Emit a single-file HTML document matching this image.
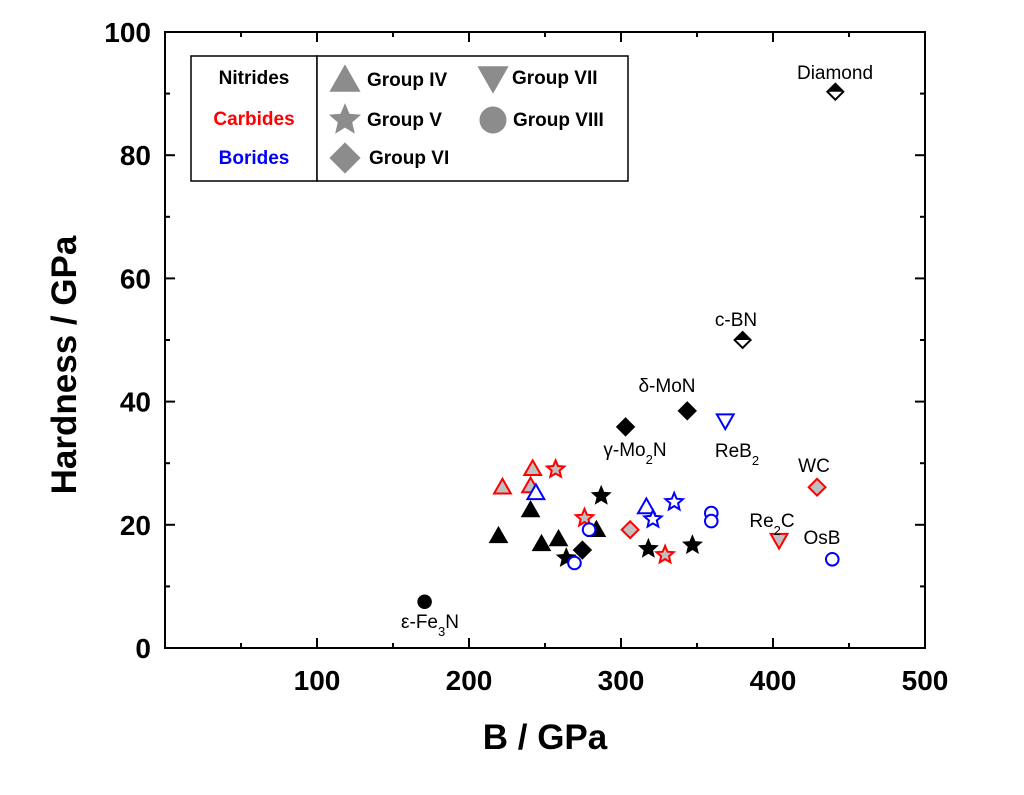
<!DOCTYPE html>
<html><head><meta charset="utf-8"><style>
body{margin:0;background:#fff;width:1024px;height:790px;overflow:hidden}
svg{font-family:"Liberation Sans",sans-serif}
</style></head><body>
<svg id="chart" width="1024" height="790" xmlns="http://www.w3.org/2000/svg"></svg>
<script>
const xTicks=[100,200,300,400,500];
const yTicks=[0,20,40,60,80,100];
const nitB=[170.8,303,343.6,219.4,240.5,247.7,258.9,283.8,274.6,264,287,318,347];
const nitH=[7.5,35.9,38.5,18.2,22.4,16.9,17.7,19.2,15.9,14.6,24.7,16.1,16.7];
const nitS=['circle','diamond','diamond','tri','tri','tri','tri','tri','diamond','star','star','star','star'];
const carB=[222,240.5,241.9,257,276,306,329,429,404];
const carH=[26.1,26.3,29.1,29,21.1,19.2,15.1,26.1,17.5];
const carS=['tri','tri','tri','star','star','diamond','star','diamond','dtri'];
const borB=[244,316.7,321,335,269.4,279,359.4,359.4,368.6,439];
const borH=[25.2,22.9,20.9,23.7,13.8,19.2,21.9,20.6,36.9,14.4];
const borS=['tri','tri','star','star','circle','circle','circle','circle','dtri','circle'];
const halfB=[380,441];
const halfH=[50,90.3];
const labels=[
 ['Diamond',835,79],['c-BN',736,326],['δ-MoN',667,392],['ε-Fe<tspan baseline-shift="sub" font-size="13">3</tspan>N',430,628],
 ['γ-Mo<tspan baseline-shift="sub" font-size="13">2</tspan>N',635,456],['ReB<tspan baseline-shift="sub" font-size="13">2</tspan>',737,457],
 ['WC',814,472],['Re<tspan baseline-shift="sub" font-size="13">2</tspan>C',772,527],['OsB',822,544]];
const L=165,R=925,T=32,Bt=648;
const sx=v=>L+v*(R-L)/500, sy=v=>Bt-v*(Bt-T)/100;
const svg=document.getElementById('chart');
const NS='http://www.w3.org/2000/svg';
function el(tag,attrs,parent){const e=document.createElementNS(NS,tag);for(const k in attrs)e.setAttribute(k,attrs[k]);(parent||svg).appendChild(e);return e;}
let fr=el('rect',{x:L,y:T,width:R-L,height:Bt-T,fill:'none',stroke:'#000','stroke-width':2});


for(let v=50;v<=450;v+=50){const x=sx(v),len=v%100===0?10:5;
 el('line',{x1:x,y1:Bt,x2:x,y2:Bt-len,stroke:'#000','stroke-width':2});
 el('line',{x1:x,y1:T,x2:x,y2:T+len,stroke:'#000','stroke-width':2});}
for(let v=10;v<100;v+=10){const y=sy(v),len=v%20===0?10:5;
 el('line',{x1:L,y1:y,x2:L+len,y2:y,stroke:'#000','stroke-width':2});
 el('line',{x1:R,y1:y,x2:R-len,y2:y,stroke:'#000','stroke-width':2});}
xTicks.forEach(v=>{const t=el('text',{x:sx(v),y:690,'text-anchor':'middle','font-size':28,'font-weight':'bold'});t.textContent=v;
 
 });
yTicks.forEach(v=>{const t=el('text',{x:151,y:sy(v)+10,'text-anchor':'end','font-size':28,'font-weight':'bold'});t.textContent=v;
 
 });
let xt=el('text',{x:545,y:749,'text-anchor':'middle','font-size':35,'font-weight':'bold'});xt.textContent='B / GPa';


let yt=el('text',{x:0,y:0,'text-anchor':'middle','font-size':35,'font-weight':'bold',transform:'translate(76,365) rotate(-90)'});yt.textContent='Hardness / GPa';


function starPts(cx,cy,r){let p=[];for(let i=0;i<10;i++){const a=-Math.PI/2+i*Math.PI/5,rr=i%2?r*0.45:r;p.push((cx+rr*Math.cos(a)).toFixed(1)+','+(cy+rr*Math.sin(a)).toFixed(1));}return p.join(' ');}
function marker(shape,cx,cy,s,fill,stroke,sw,parent){
 let e;
 if(shape==='tri')e=el('polygon',{points:`${cx},${cy-s*0.6} ${cx-s*0.6},${cy+s*0.45} ${cx+s*0.6},${cy+s*0.45}`},parent);
 else if(shape==='dtri')e=el('polygon',{points:`${cx},${cy+s*0.6} ${cx-s*0.6},${cy-s*0.45} ${cx+s*0.6},${cy-s*0.45}`},parent);
 else if(shape==='diamond')e=el('polygon',{points:`${cx},${cy-s*0.6} ${cx+s*0.6},${cy} ${cx},${cy+s*0.6} ${cx-s*0.6},${cy}`},parent);
 else if(shape==='star')e=el('polygon',{points:starPts(cx,cy,s*0.65)},parent);
 else e=el('circle',{cx:cx,cy:cy,r:s*0.45},parent);
 e.setAttribute('fill',fill);e.setAttribute('stroke',stroke);e.setAttribute('stroke-width',sw);e.setAttribute('stroke-linejoin','miter');
 return e;}
const g=el('g',{});


nitB.forEach((b,i)=>{const m=marker(nitS[i],sx(b),sy(nitH[i]),15,'#000','#000',1,g);
 
 });
carB.forEach((b,i)=>{const m=marker(carS[i],sx(b),sy(carH[i]),14,'#c0c0c0','#ff0000',2,g);
 
 });
borB.forEach((b,i)=>{const m=marker(borS[i],sx(b),sy(borH[i]),14,'#fff','#0000ff',2,g);
 
 });
halfB.forEach((b,i)=>{const cx=sx(b),cy=sy(halfH[i]),s=8;
 const h=el('g',{},g);
 
 
 el('polygon',{points:`${cx},${cy-s} ${cx+s},${cy} ${cx},${cy+s} ${cx-s},${cy}`,fill:'#fff',stroke:'#000','stroke-width':2},h);
 el('polygon',{points:`${cx},${cy-s} ${cx+s},${cy} ${cx-s},${cy}`,fill:'#000'},h);});
labels.forEach(l=>{const t=el('text',{x:l[1],y:l[2],'text-anchor':'middle','font-size':19});t.innerHTML=l[0];
 
 });
const lg=el('g',{});


el('rect',{x:191,y:56,width:126,height:125,fill:'#fff',stroke:'#000','stroke-width':1.5},lg);
el('rect',{x:317,y:56,width:311,height:125,fill:'#fff',stroke:'#000','stroke-width':1.5},lg);
[['Nitrides','#000',84],['Carbides','#ff0000',125],['Borides','#0000ff',164]].forEach(c=>{
 const t=el('text',{x:254,y:c[2],'text-anchor':'middle','font-size':19,'font-weight':'bold',fill:c[1]},lg);t.textContent=c[0];
 
 });
[['tri',345,80,'Group IV',367],['dtri',493,78,'Group VII',512],['star',345,120,'Group V',367],['circle',493,120,'Group VIII',513],['diamond',345,158,'Group VI',369]].forEach(c=>{
 marker(c[0],c[1],c[2],c[0]==='circle'?30:26,'#8c8c8c','none',0,lg);
 const t=el('text',{x:c[4],y:c[2]+6,'font-size':19,'font-weight':'bold'},lg);t.textContent=c[3];
 
 });
</script>
</body></html>
